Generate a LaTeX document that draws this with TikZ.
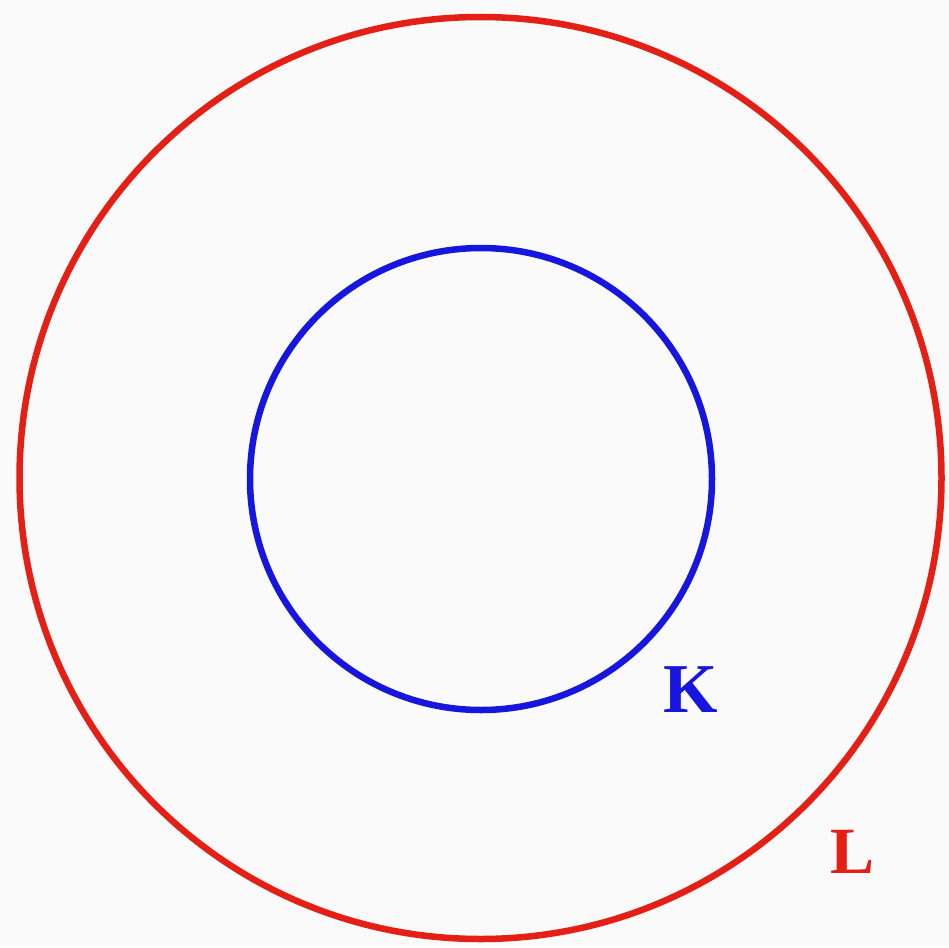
\documentclass[tikz,border=0pt]{standalone}
\usepackage{fontspec}
\setmainfont{Liberation Serif}
\definecolor{ringred}{RGB}{228,32,22}
\definecolor{ringblue}{RGB}{22,22,222}
\begin{document}
\begin{tikzpicture}[x=1pt,y=-1pt,
  ring/.style={line width=6.5pt},
  lbl/.style={font=\bfseries\fontsize{70}{70}\selectfont, inner sep=0pt}]
\useasboundingbox (0,0) rectangle (949,947);
\fill[white!98!black] (0,0) rectangle (949,947);
\node[draw=ringred, ring, circle, minimum size=922pt, inner sep=0pt] (L) at (480.5,478) {};
\node[draw=ringblue, ring, circle, minimum size=462pt, inner sep=0pt] (K) at (481,479) {};
\node[lbl, text=ringblue, anchor=base] (Klabel) at (691,712) {K};
\node[lbl, text=ringred, anchor=base, font=\bfseries\fontsize{66}{66}\selectfont] (Llabel) at (852,873) {L};
\end{tikzpicture}
\end{document}
